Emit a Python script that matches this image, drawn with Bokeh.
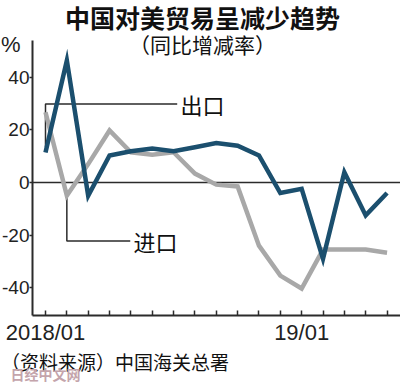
from bokeh.plotting import figure
from bokeh.models import Range1d, FixedTicker, Label, LinearAxis
from bokeh.embed import file_html
from bokeh.resources import INLINE

# ---- data ----
month_labels = ["2018/01", "", "", "", "", "", "", "", "", "", "", "",
                "19/01", "", "", "", ""]
month_idx = list(range(len(month_labels)))
exports = [11.4, 46.4, -5.0, 10.3, 11.9, 12.9, 11.9, 13.4, 15.0, 14.0, 10.3,
           -4.0, -2.4, -29.0, 3.9, -12.5, -4.0]
imports = [26.7, -5.0, 7.0, 19.8, 11.5, 10.6, 11.5, 3.4, -0.8, -1.5, -24.0,
           -35.4, -40.3, -25.5, -25.5, -25.5, -26.7]
y_ticks = [-40, -20, 0, 20, 40]
y_tick_labels = ["-40", "-20", "0", "20", "40"]

# plot-area extent (data units) and callout anchors
axis_x = -0.61          # where the value axis stands
axis_y = -50.6          # where the month axis stands
y_top = 54.0            # top of the value axis
export_label_pos = (6.32, 29.9)
import_label_pos = (4.12, -22.2)

TICK_FONT = "Liberation Sans"
CJK = "Noto Sans CJK SC"
INK = "#2b2b2b"

p = figure(width=400, height=383, output_backend="svg", toolbar_location=None,
           x_range=Range1d(-2.108, 16.63), y_range=Range1d(-76.4, 69.2),
           x_axis_type=None, y_axis_type=None,
           min_border_left=0, min_border_right=0, min_border_top=0,
           min_border_bottom=0)
p.outline_line_color = None
p.grid.grid_line_color = None
p.background_fill_color = "white"
p.border_fill_color = "white"

# axes standing inside the canvas
xaxis = LinearAxis(fixed_location=axis_y, bounds=(axis_x, p.x_range.end))
xaxis.ticker = FixedTicker(ticks=month_idx)
xaxis.major_label_overrides = {i: lab for i, lab in zip(month_idx, month_labels)}
xaxis.major_tick_in = 5
xaxis.major_tick_out = 0
xaxis.major_label_standoff = 4
xaxis.major_label_text_font_size = "22px"
yaxis = LinearAxis(fixed_location=axis_x, bounds=(axis_y, y_top))
yaxis.ticker = FixedTicker(ticks=y_ticks)
yaxis.major_label_overrides = {v: s for v, s in zip(y_ticks, y_tick_labels)}
yaxis.major_tick_in = 0
yaxis.major_tick_out = 3
yaxis.major_label_standoff = 0
yaxis.major_label_text_font_size = "19px"
for ax in (xaxis, yaxis):
    ax.minor_tick_line_color = None
    ax.axis_line_color = INK
    ax.axis_line_width = 2
    ax.major_tick_line_color = INK
    ax.major_tick_line_width = 1.5
    ax.major_label_text_font = TICK_FONT
    ax.major_label_text_color = "#222222"
p.add_layout(xaxis, "below")
p.add_layout(yaxis, "left")

# zero line across the plot area
p.segment(x0=[axis_x], y0=[0], x1=[p.x_range.end], y1=[0],
          line_color=INK, line_width=1.5)

# callout leaders
p.line([month_idx[0], month_idx[0], export_label_pos[0] - 0.15],
       [exports[0] + 2, export_label_pos[1], export_label_pos[1]],
       line_color=INK, line_width=1.5)
p.line([month_idx[1], month_idx[1], import_label_pos[0] - 0.15],
       [imports[1], import_label_pos[1], import_label_pos[1]],
       line_color=INK, line_width=1.5)

# series
p.line(month_idx, imports, line_color="#a8a8a8", line_width=4.5, line_join="miter")
p.line(month_idx, exports, line_color="#1b4f6e", line_width=4.5, line_join="miter")

def note(x, y, text, size, align="left", bold=False, color="#111111", font=CJK):
    p.add_layout(Label(x=x, y=y, text=text, text_font=font, text_font_size=size,
                       text_font_style="bold" if bold else "normal",
                       text_color=color, text_baseline="middle", text_align=align))

note(export_label_pos[0], export_label_pos[1], "出口", "22px")
note(import_label_pos[0], import_label_pos[1], "进口", "22px")
note(7.35, 62.8, "中国对美贸易呈减少趋势", "25px", align="center", bold=True)
note(7.35, 52.6, "（同比增减率）", "21px", align="center")
note(-2.08, 52.4, "%", "22px", color="#222222", font=TICK_FONT)
note(-2.08, -67.9, "（资料来源）中国海关总署", "19px")
note(-1.64, -72.9, "日经中文网", "14px", bold=True, color="#c4a4ab")

open("out.html", "w").write(file_html(p, INLINE))
